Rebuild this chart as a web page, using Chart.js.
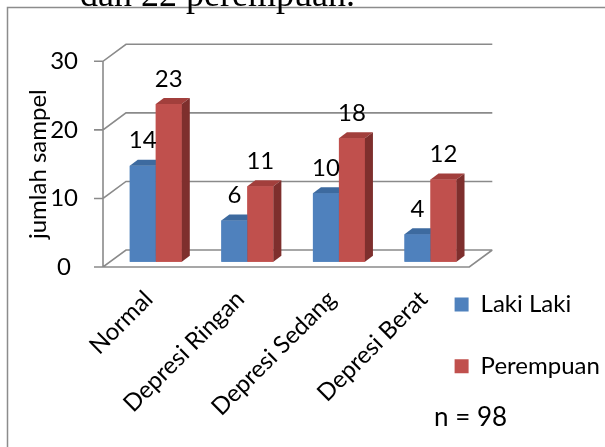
<!DOCTYPE html>
<html>
<head>
<meta charset="utf-8">
<script src="https://cdn.jsdelivr.net/npm/chart.js@4.4.1/dist/chart.umd.min.js"></script>
<style>
  html, body { margin: 0; padding: 0; background: #ffffff; }
  #wrap { position: relative; width: 605px; height: 447px; overflow: hidden; }
  canvas { display: block; }
</style>
</head>
<body>
<div id="wrap"><canvas id="chart" width="605" height="447"></canvas></div>
<script>
// ---- data ----
const categories = ['Normal', 'Depresi Ringan', 'Depresi Sedang', 'Depresi Berat'];
const lakiLaki = [14, 6, 10, 4];
const perempuan = [23, 11, 18, 12];
const seriesNames = ['Laki Laki', 'Perempuan'];
const yTicks = [0, 10, 20, 30];
const axisTitle = 'jumlah sampel';
const sampleNote = 'n = 98';
const headerText = 'dan 22 perempuan.';

// ---- look ----
const FONT_FAMILY = 'Lato, "Open Sans", sans-serif';
const FONT_SIZE = 24;
const GRID_COLOR = '#8a8a8a';
const WALL_DEPTH = { dx: 23, dy: -17 };   // front plane -> back wall
const BAR_SHIFT = { dx: 7, dy: -5.3 };    // front plane -> front face of the columns
const BAR_DEPTH = { dx: 8, dy: -6 };      // thickness of each column
const faceColors = [
  { front: '#4F81BD', top: '#3D6A9F', side: '#2F5583' },
  { front: '#C0504D', top: '#A23F3C', side: '#7E2F2D' }
];
const PLOT = { left: 103, right: 469.3, top: 61.3, bottom: 267 };
const LEGEND_AT = { x: 417, y: 255 };
const LEGEND_PAD = 37.6;

function poly(ctx, pts, color) {
  ctx.beginPath();
  ctx.moveTo(pts[0][0], pts[0][1]);
  for (let i = 1; i < pts.length; i++) ctx.lineTo(pts[i][0], pts[i][1]);
  ctx.closePath();
  ctx.fillStyle = color;
  ctx.fill();
}

const columns3d = {
  id: 'columns3d',
  afterLayout(chart) {
    const lg = chart.legend;
    if (!lg) return;
    const w = lg.width, h = lg.height;
    lg.left = LEGEND_AT.x; lg.top = LEGEND_AT.y;
    lg.right = lg.left + w; lg.bottom = lg.top + h;
  },
  beforeDraw(chart) {
    const { ctx, chartArea: a, scales: { y } } = chart;
    ctx.save();
    // outer border of the chart object
    ctx.strokeStyle = '#8c8c8c';
    ctx.lineWidth = 1.5;
    ctx.strokeRect(7.5, 7.5, chart.width + 40, chart.height + 40);
    // line of body text above the chart
    ctx.fillStyle = '#000';
    ctx.font = '36px "Liberation Serif", serif';
    ctx.textAlign = 'left';
    ctx.textBaseline = 'alphabetic';
    ctx.fillText(headerText, 80, 6);
    // side wall, back wall and floor
    ctx.strokeStyle = GRID_COLOR;
    ctx.lineWidth = 1.6;
    ctx.lineJoin = 'miter';
    ctx.beginPath();
    yTicks.forEach(v => {
      const py = y.getPixelForValue(v);
      ctx.moveTo(a.left - 9, py);
      ctx.lineTo(a.left, py);
      ctx.lineTo(a.left + WALL_DEPTH.dx, py + WALL_DEPTH.dy);
      ctx.lineTo(a.right + WALL_DEPTH.dx, py + WALL_DEPTH.dy);
    });
    ctx.moveTo(a.left, y.getPixelForValue(yTicks[yTicks.length - 1]));
    ctx.lineTo(a.left, a.bottom);
    ctx.lineTo(a.right, a.bottom);
    ctx.lineTo(a.right + WALL_DEPTH.dx, a.bottom + WALL_DEPTH.dy);
    ctx.stroke();
    ctx.restore();
  },
  beforeDatasetsDraw(chart) {
    chart.ctx.save();
    chart.ctx.translate(BAR_SHIFT.dx, BAR_SHIFT.dy);
  },
  afterDatasetsDraw(chart) {
    const ctx = chart.ctx;
    const metas = chart.data.datasets.map((d, i) => chart.getDatasetMeta(i));
    // paint columns left to right so each hides the side of its neighbour
    categories.forEach((c, ci) => {
      metas.forEach((meta, di) => {
        const el = meta.data[ci];
        if (!el) return;
        const { x, y, base, width } = el.getProps(['x', 'y', 'base', 'width'], true);
        const l = x - width / 2, r = x + width / 2;
        const col = faceColors[di];
        el.draw(ctx);
        poly(ctx, [[l, y], [r, y], [r + BAR_DEPTH.dx, y + BAR_DEPTH.dy], [l + BAR_DEPTH.dx, y + BAR_DEPTH.dy]], col.top);
        poly(ctx, [[r, y], [r + BAR_DEPTH.dx, y + BAR_DEPTH.dy], [r + BAR_DEPTH.dx, base + BAR_DEPTH.dy], [r, base]], col.side);
      });
    });
    // value labels
    ctx.fillStyle = '#000';
    ctx.font = FONT_SIZE + 'px ' + FONT_FAMILY;
    ctx.textAlign = 'center';
    ctx.textBaseline = 'middle';
    metas.forEach((meta, di) => {
      meta.data.forEach((el, i) => {
        const { x, y } = el.getProps(['x', 'y'], true);
        ctx.fillText(String(chart.data.datasets[di].data[i]), x, y - 25);
      });
    });
    ctx.restore();
  },
  afterDraw(chart) {
    const ctx = chart.ctx;
    ctx.save();
    ctx.fillStyle = '#000';
    ctx.font = '26px ' + FONT_FAMILY;
    ctx.textAlign = 'left';
    ctx.textBaseline = 'alphabetic';
    ctx.fillText(sampleNote, 434, 426);
    ctx.restore();
  }
};

new Chart(document.getElementById('chart'), {
  type: 'bar',
  data: {
    labels: categories,
    datasets: [
      { label: seriesNames[0], data: lakiLaki, backgroundColor: faceColors[0].front, borderWidth: 0, clip: false },
      { label: seriesNames[1], data: perempuan, backgroundColor: faceColors[1].front, borderWidth: 0, clip: false }
    ]
  },
  options: {
    responsive: false,
    animation: false,
    devicePixelRatio: 1,
    categoryPercentage: 0.568,
    barPercentage: 1,
    layout: { padding: { top: PLOT.top, left: 0, right: 605 - PLOT.right, bottom: 0 } },
    plugins: {
      tooltip: { enabled: false },
      legend: {
        position: 'chartArea',
        align: 'start',
        labels: {
          boxWidth: 14, boxHeight: 14, padding: LEGEND_PAD, color: '#000', textAlign: 'left',
          font: { family: FONT_FAMILY, size: FONT_SIZE }
        }
      }
    },
    scales: {
      x: {
        grid: { display: false, drawTicks: false },
        border: { display: false },
        ticks: {
          autoSkip: false, minRotation: 45, maxRotation: 45, padding: 18, color: '#000',
          font: { family: FONT_FAMILY, size: FONT_SIZE }
        },
        afterFit(s) { s.height = 447 - PLOT.bottom; }
      },
      y: {
        min: 0, max: 30,
        afterBuildTicks(s) { s.ticks = yTicks.map(v => ({ value: v })); },
        grid: { display: false, drawTicks: false },
        border: { display: false },
        ticks: {
          crossAlign: 'center', padding: 25, color: '#000',
          font: { family: FONT_FAMILY, size: FONT_SIZE }
        },
        title: {
          display: true, text: axisTitle, color: '#000', padding: { top: 24, bottom: 0 },
          font: { family: FONT_FAMILY, size: FONT_SIZE }
        },
        afterFit(s) { s.width = PLOT.left; }
      }
    }
  },
  plugins: [columns3d]
});
</script>
</body>
</html>
